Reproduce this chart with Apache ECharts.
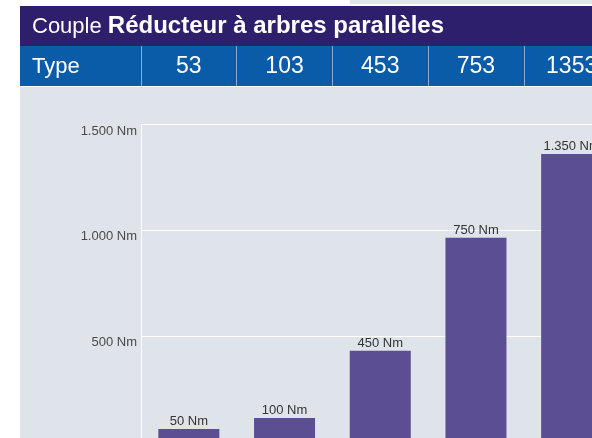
<!DOCTYPE html>
<html>
<head>
<meta charset="utf-8">
<script src="https://cdn.jsdelivr.net/npm/echarts@6/dist/echarts.min.js"></script>
<style>
html,body{margin:0;padding:0;background:#fff;}
#c{width:592px;height:438px;}
</style>
</head>
<body>
<div id="c"></div>
<script>
// Data
const types = ['53', '103', '453', '753', '1353'];
const torqueLabels = ['50 Nm', '100 Nm', '450 Nm', '750 Nm', '1.350 Nm'];
// drawn bar heights (the source chart is not to scale), in Nm on the axis
const barHeights = [59, 111, 430, 964, 1360];
const yTickLabels = ['0 Nm', '500 Nm', '1.000 Nm', '1.500 Nm'];
const titleLight = 'Couple ';
const titleBold = 'Réducteur à arbres parallèles';
const headerLabel = 'Type';

const chart = echarts.init(document.getElementById('c'), null, {renderer: 'canvas'});
const FONT = '"Liberation Sans", Arial, Helvetica, sans-serif';
chart.setOption({
  animation: false,
  backgroundColor: '#ffffff',
  graphic: [
    {type: 'rect', z: -10, shape: {x: 350, y: 0, width: 242, height: 4}, style: {fill: '#dfe5ec'}},
    {type: 'rect', z: -10, shape: {x: 20, y: 6, width: 572, height: 40}, style: {fill: '#2d1f6b'}},
    {type: 'rect', z: -10, shape: {x: 20, y: 46, width: 572, height: 40}, style: {fill: '#0a5ba8'}},
    {type: 'rect', z: -10, shape: {x: 20, y: 87, width: 572, height: 351}, style: {fill: '#dee4ea'}},
    {type: 'text', z: 5, x: 32, y: 26.5, style: {
      text: '{a|' + titleLight + '}{b|' + titleBold + '}',
      verticalAlign: 'middle',
      rich: {
        a: {fill: '#ffffff', fontSize: 22, fontFamily: FONT, fontWeight: 300},
        b: {fill: '#ffffff', fontSize: 24, fontFamily: FONT, fontWeight: 'bold'}
      }
    }},
    {type: 'text', z: 5, x: 32, y: 67, style: {
      text: headerLabel, fill: '#ffffff', fontSize: 22, fontFamily: FONT, fontWeight: 300,
      verticalAlign: 'middle'
    }}
  ],
  grid: [
    {left: 141, top: 124.5, width: 478.5, height: 317, containLabel: false, outerBoundsMode: 'none'},
    {left: 141, top: 46, width: 478.5, height: 40, containLabel: false, outerBoundsMode: 'none'}
  ],
  xAxis: [
    {
      type: 'category', gridIndex: 0, data: types,
      axisLine: {show: false}, axisTick: {show: false}, axisLabel: {show: false}, splitLine: {show: false}
    },
    {
      type: 'category', gridIndex: 1, data: types, position: 'bottom',
      axisLine: {show: false}, axisTick: {show: false},
      splitLine: {show: true, lineStyle: {color: '#86acd6', width: 1}},
      axisLabel: {inside: true, color: '#ffffff', fontSize: 23, fontFamily: FONT, fontWeight: 300, margin: 19, verticalAlign: 'middle'}
    }
  ],
  yAxis: [
    {
      type: 'value', gridIndex: 0,
      min: 0, max: 1500, interval: 500,
      axisLine: {show: true, lineStyle: {color: '#ffffff', width: 1}},
      axisTick: {show: false},
      splitLine: {show: true, lineStyle: {color: '#ffffff', width: 1}},
      axisLabel: {
        color: '#4a4a4a', fontSize: 13, fontFamily: FONT, margin: 4, verticalAlign: 'top',
        formatter: function (v) { return yTickLabels[Math.round(v / 500)]; }
      }
    },
    {type: 'value', gridIndex: 1, show: false, min: 0, max: 1}
  ],
  series: [{
    type: 'bar',
    xAxisIndex: 0, yAxisIndex: 0,
    data: barHeights,
    barWidth: 61,
    itemStyle: {color: '#5b4e93'},
    label: {
      show: true, position: 'top', distance: 1,
      color: '#333333', fontSize: 13, fontFamily: FONT,
      formatter: function (p) { return torqueLabels[p.dataIndex]; }
    }
  }]
});
</script>
</body>
</html>
